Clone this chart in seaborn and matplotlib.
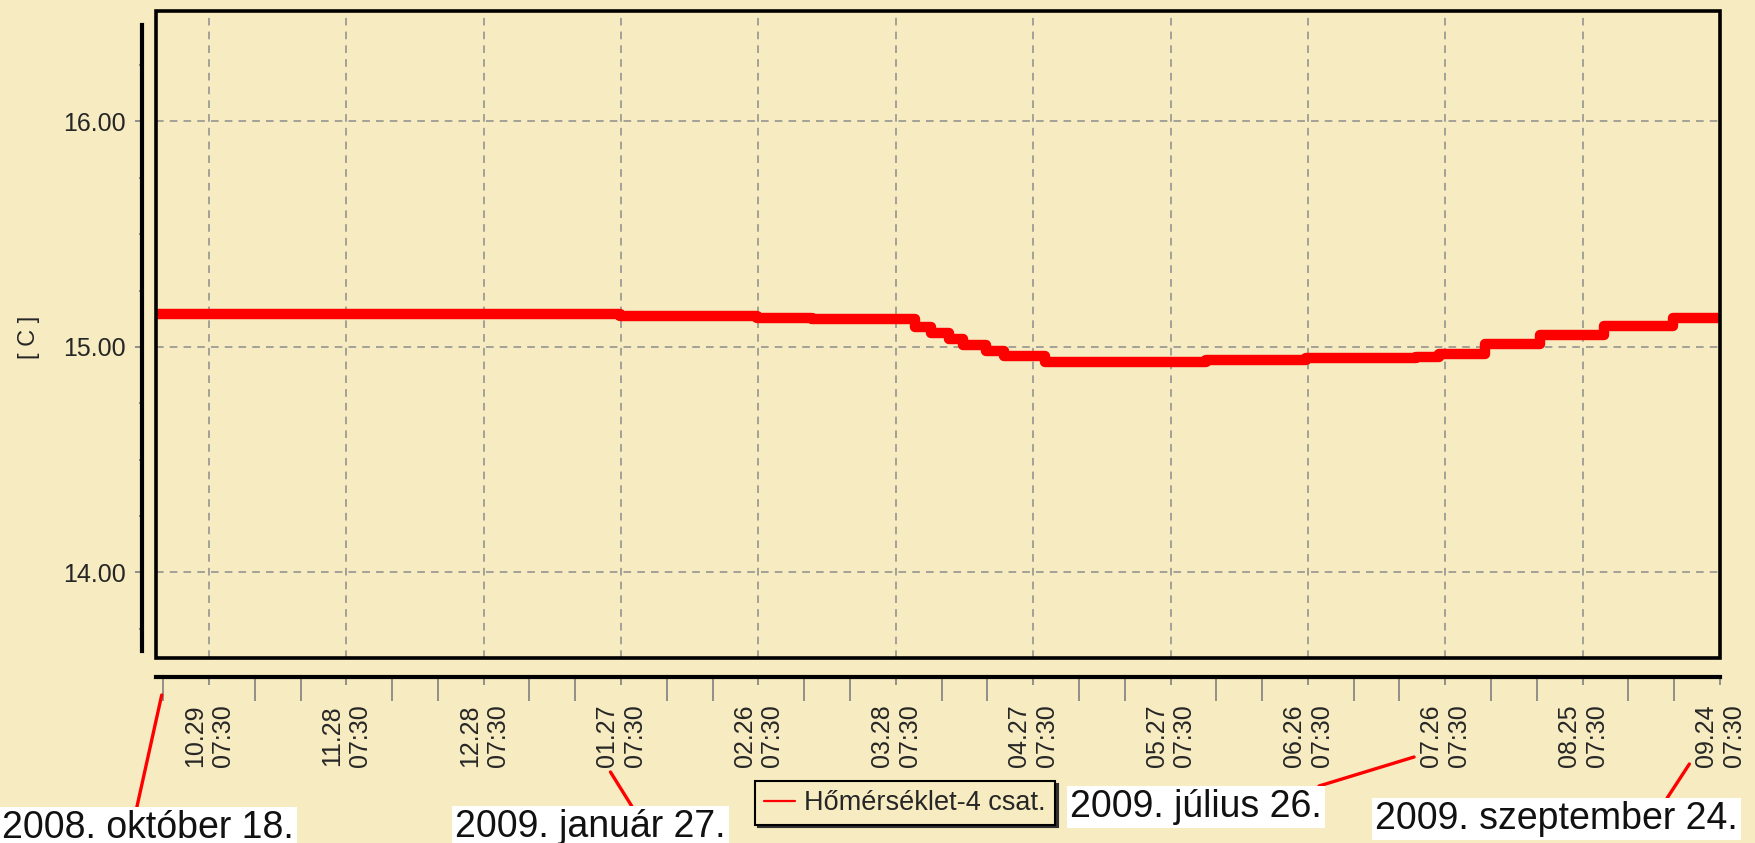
# Temperature log chart, channel 4 (Oct 2008 - Sep 2009)
import pandas as pd
import seaborn as sns
import matplotlib.pyplot as plt
import matplotlib.dates as mdates
from matplotlib.patches import Rectangle
from matplotlib.lines import Line2D

# curve (step levels, steps-post)
dates = ['2008-10-17 18:00', '2008-12-10', '2009-01-27', '2009-02-26', '2009-03-10',
         '2009-04-01 10:00', '2009-04-05', '2009-04-09', '2009-04-12', '2009-04-17',
         '2009-04-21', '2009-04-30', '2009-06-04', '2009-06-26', '2009-07-20',
         '2009-07-25', '2009-08-04', '2009-08-16', '2009-08-30', '2009-09-14',
         '2009-09-24 07:30']
temps = [15.147, 15.145, 15.138, 15.130, 15.124,
         15.089, 15.062, 15.036, 15.009, 14.982,
         14.960, 14.933, 14.940, 14.950, 14.955,
         14.970, 15.013, 15.053, 15.093, 15.128,
         15.130]
series_name = 'Hőmérséklet-4 csat.'

xtick_dates = ['2008-10-29 07:30', '2008-11-28 07:30', '2008-12-28 07:30', '2009-01-27 07:30',
               '2009-02-26 07:30', '2009-03-28 07:30', '2009-04-27 07:30', '2009-05-27 07:30',
               '2009-06-26 07:30', '2009-07-26 07:30', '2009-08-25 07:30', '2009-09-24 07:30']
xtick_labels = ['10.29\n07:30', '11.28\n07:30', '12.28\n07:30', '01.27\n07:30',
                '02.26\n07:30', '03.28\n07:30', '04.27\n07:30', '05.27\n07:30',
                '06.26\n07:30', '07.26\n07:30', '08.25\n07:30', '09.24\n07:30']
ytick_vals = [14.0, 15.0, 16.0]
ytick_labels = ['14.00', '15.00', '16.00']

notes = ['2008. október 18.', '2009. január 27.', '2009. július 26.', '2009. szeptember 24.']
note_dates = ['2008-10-19', '2009-01-25', '2009-07-19 12:00', '2009-09-17 15:00']

bg = '#F7EBC1'
sns.set_style('white', {'axes.facecolor': bg, 'figure.facecolor': bg})
plt.rcParams['font.family'] = ['Liberation Sans', 'DejaVu Sans']

fig = plt.figure(figsize=(17.55, 8.43), dpi=100)
ax = fig.add_axes([156 / 1755, 185 / 843, 1564 / 1755, 647 / 843])
ax.set_facecolor(bg)

df = pd.DataFrame({'date': pd.to_datetime(dates, format='ISO8601'), 'temp': temps})
sns.lineplot(data=df, x='date', y='temp', ax=ax, color='#FF0000', lw=7.5,
             drawstyle='steps-post', legend=False, zorder=3)

ax.set_xlim(pd.Timestamp('2008-10-17 18:00'), pd.Timestamp('2009-09-24 07:30'))
ax.set_ylim(13.62, 16.49)

# ticks
major = pd.to_datetime(xtick_dates, format='ISO8601')
minor = [d for d in pd.date_range('2008-10-19 07:30', '2009-09-24 07:30', freq='10D') if d not in major]
ax.set_xticks(major, xtick_labels)
ax.set_xticks(minor, minor=True)
ax.set_yticks(ytick_vals, ytick_labels)
ax.set_yticks([v / 4 for v in range(55, 66) if v % 4], minor=True)

ax.tick_params(axis='x', which='both', bottom=True, labelsize=18, labelrotation=90)
ax.tick_params(axis='y', which='both', left=True, labelsize=18)
ax.tick_params(axis='x', which='major', length=6, width=1.2, color='#808080', pad=14, direction='out')
ax.tick_params(axis='x', which='minor', length=17, width=1.2, color='#808080', direction='out')
ax.tick_params(axis='y', which='major', length=5, width=1.2, color='#808080', pad=7, direction='out')
ax.tick_params(axis='y', which='minor', length=2, width=1.2, color='#808080', direction='out')
for lbl in ax.get_xticklabels():
    lbl.set_linespacing(1.25)
ax.set_xlabel('')
ax.set_ylabel('[ C ]', fontsize=17)
ax.yaxis.set_label_coords(-0.074, 0.495)

ax.grid(True, which='major', ls=(0, (5, 4)), color='#8C8C8C', lw=1.1)

# detached axis lines, plus a closed box round the plot area
for s in ['top', 'right']:
    ax.spines[s].set_visible(False)
ax.spines['left'].set_position(('outward', 10))
ax.spines['left'].set_bounds(13.649, 16.43)
ax.spines['left'].set_linewidth(3)
ax.spines['left'].set_color('black')
ax.spines['bottom'].set_position(('outward', 13.5))
ax.spines['bottom'].set_linewidth(3)
ax.spines['bottom'].set_color('black')
ax.add_patch(Rectangle((0, 0), 1, 1, transform=ax.transAxes, fill=False,
                       lw=2.6, ec='black', clip_on=False, zorder=5))

# legend
handle = Line2D([], [], color='#FF0000', lw=1.6)
leg = fig.legend([handle], [series_name], loc='center', bbox_to_anchor=(905 / 1755, 40 / 843),
                 fontsize=19.5, fancybox=False, framealpha=1, edgecolor='black',
                 handlelength=1.15, handletextpad=0.35, borderpad=0.32,
                 shadow={'color': '#303030', 'alpha': 1})
leg.get_frame().set_linewidth(1.5)

# date call-outs with red leader lines
note_tip_y = [148, 71, 86, 79]
note_text_xy = [(2, 33), (455, 34), (1070, 54), (1375, 42)]
note_relx = [0.46, 0.66, 0.95, 0.8]
for txt, d, ty, (tx, tyy), rx in zip(notes, note_dates, note_tip_y, note_text_xy, note_relx):
    ax.annotate(txt, xy=(mdates.date2num(pd.Timestamp(d)), ty), xycoords=('data', 'figure pixels'),
                xytext=(tx, tyy), textcoords='figure pixels', ha='left', va='top',
                fontsize=27, color='#111111', annotation_clip=False,
                bbox=dict(boxstyle='square,pad=0.08', fc='white', ec='none'),
                arrowprops=dict(arrowstyle='-', color='#FF0000', lw=2.4,
                                shrinkA=0, shrinkB=0, relpos=(rx, 1.0)))

fig.savefig('out.png', dpi=100, facecolor=bg)
